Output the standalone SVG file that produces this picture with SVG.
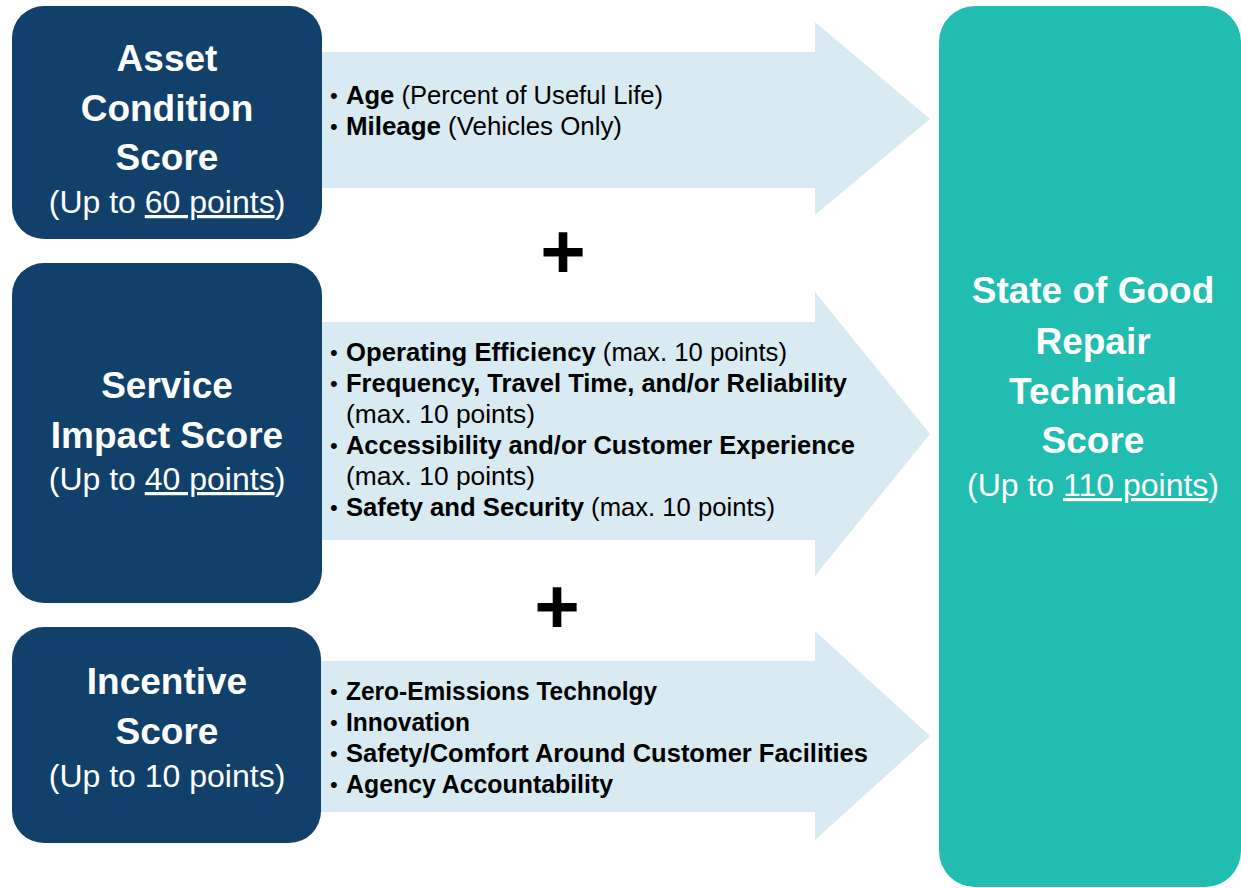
<svg xmlns="http://www.w3.org/2000/svg" width="1241" height="888" viewBox="0 0 1241 888">
  <style>
    .navy { fill: #11406A; }
    .teal { fill: #20BDB0; }
    .arrow { fill: #D8EAF2; }
    .head { font-family: "Liberation Sans", Arial, sans-serif; font-weight: bold; font-size: 37px; fill: #FFFFFF; text-anchor: middle; }
    .sub { font-family: "Liberation Sans", Arial, sans-serif; font-size: 32px; fill: #FFFFFF; text-anchor: middle; }
    .bul { font-family: "Liberation Sans", Arial, sans-serif; font-size: 26px; fill: #000000; }
    .dot { font-family: "Liberation Sans", Arial, sans-serif; font-size: 22px; fill: #000000; }
    .b { font-weight: bold; }
    .plus { font-family: "Liberation Sans", Arial, sans-serif; font-weight: bold; font-size: 78px; fill: #000000; text-anchor: middle; }
  </style>
  <rect width="1241" height="888" fill="#FFFFFF"/>

  <g id="connectors">
    <g id="arrow-asset">
      <polygon class="arrow" points="318,52 815,52 815,22 930,119 815,215 815,188 318,188"/>
      <text class="dot" x="330" y="103">•</text>
      <text class="bul" x="346" y="104" textLength="317" lengthAdjust="spacingAndGlyphs"><tspan class="b">Age</tspan> (Percent of Useful Life)</text>
      <text class="dot" x="330" y="134">•</text>
      <text class="bul" x="346" y="135" textLength="276" lengthAdjust="spacingAndGlyphs"><tspan class="b">Mileage</tspan> (Vehicles Only)</text>
    </g>
    <g id="arrow-service">
      <polygon class="arrow" points="318,322 815,322 815,292 930,434 815,576 815,540 318,540"/>
      <text class="dot" x="330" y="360">•</text>
      <text class="bul" x="346" y="361" textLength="441" lengthAdjust="spacingAndGlyphs"><tspan class="b">Operating Efficiency</tspan> (max. 10 points)</text>
      <text class="dot" x="330" y="391">•</text>
      <text class="bul b" x="346" y="392" textLength="501" lengthAdjust="spacingAndGlyphs">Frequency, Travel Time, and/or Reliability</text>
      <text class="bul" x="346" y="423" textLength="189" lengthAdjust="spacingAndGlyphs">(max. 10 points)</text>
      <text class="dot" x="330" y="453">•</text>
      <text class="bul b" x="346" y="454" textLength="509" lengthAdjust="spacingAndGlyphs">Accessibility and/or Customer Experience</text>
      <text class="bul" x="346" y="485" textLength="189" lengthAdjust="spacingAndGlyphs">(max. 10 points)</text>
      <text class="dot" x="330" y="515">•</text>
      <text class="bul" x="346" y="516" textLength="429" lengthAdjust="spacingAndGlyphs"><tspan class="b">Safety and Security</tspan> (max. 10 points)</text>
    </g>
    <g id="arrow-incentive">
      <polygon class="arrow" points="318,661 815,661 815,631 930,736 815,840 815,812 318,812"/>
      <text class="dot" x="330" y="699">•</text>
      <text class="bul b" x="346" y="700" textLength="311" lengthAdjust="spacingAndGlyphs">Zero-Emissions Technolgy</text>
      <text class="dot" x="330" y="730">•</text>
      <text class="bul b" x="346" y="731" textLength="124" lengthAdjust="spacingAndGlyphs">Innovation</text>
      <text class="dot" x="330" y="761">•</text>
      <text class="bul b" x="346" y="762" textLength="522" lengthAdjust="spacingAndGlyphs">Safety/Comfort Around Customer Facilities</text>
      <text class="dot" x="330" y="792">•</text>
      <text class="bul b" x="346" y="793" textLength="267" lengthAdjust="spacingAndGlyphs">Agency Accountability</text>
    </g>
  </g>

  <g id="asset-condition">
    <rect class="navy" x="12" y="6" width="310" height="233" rx="32"/>
    <text class="head" x="167" y="71">Asset</text>
    <text class="head" x="167" y="121">Condition</text>
    <text class="head" x="167" y="170">Score</text>
    <text class="sub" x="167" y="213">(Up to <tspan text-decoration="underline">60 points</tspan>)</text>
  </g>

  <g id="service-impact">
    <rect class="navy" x="12" y="263" width="310" height="340" rx="32"/>
    <text class="head" x="167" y="398">Service</text>
    <text class="head" x="167" y="448">Impact Score</text>
    <text class="sub" x="167" y="490">(Up to <tspan text-decoration="underline">40 points</tspan>)</text>
  </g>

  <g id="incentive">
    <rect class="navy" x="12" y="627" width="309" height="216" rx="32"/>
    <text class="head" x="167" y="694">Incentive</text>
    <text class="head" x="167" y="744">Score</text>
    <text class="sub" x="167" y="787">(Up to 10 points)</text>
  </g>

  <g id="plus-1">
    <text class="plus" x="563" y="278">+</text>
  </g>
  <g id="plus-2">
    <text class="plus" x="557" y="633">+</text>
  </g>

  <g id="sgr-technical">
    <rect class="teal" x="939" y="6" width="302" height="881" rx="36"/>
    <text class="head" x="1093" y="303">State of Good</text>
    <text class="head" x="1093" y="354">Repair</text>
    <text class="head" x="1093" y="404">Technical</text>
    <text class="head" x="1093" y="453">Score</text>
    <text class="sub" x="1093" y="496">(Up to <tspan text-decoration="underline">110 points</tspan>)</text>
  </g>
</svg>
